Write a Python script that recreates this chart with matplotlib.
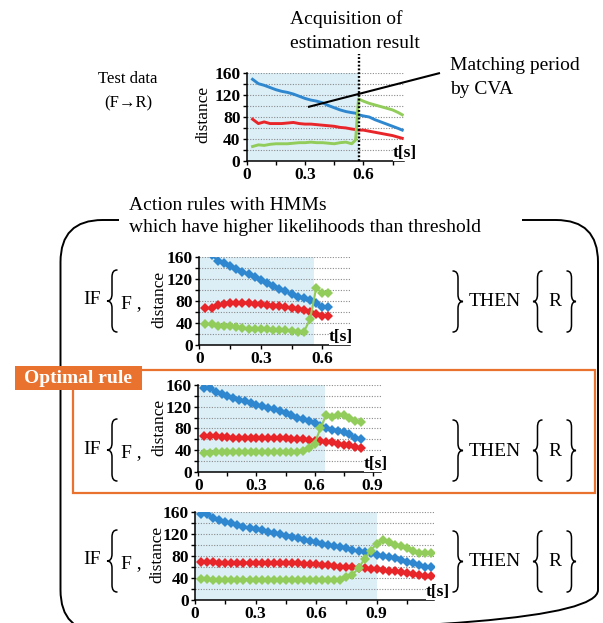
import matplotlib

matplotlib.use("Agg")

import matplotlib.pyplot as plt
from matplotlib.path import Path
from matplotlib.patches import PathPatch, Rectangle
from matplotlib.ticker import FuncFormatter

W, H = 603, 623
SERIF = ["Liberation Serif", "DejaVu Serif"]
BLUE, RED, GREEN = "#2F88CF", "#E8262A", "#92CC5A"
SHADE = "#DCEFF7"
ORANGE = "#E9722E"

# ---- data ----
# test data (F -> R), continuous curves
top_time = [0.03, 0.06, 0.09, 0.12, 0.15, 0.18, 0.21, 0.24, 0.27, 0.30, 0.33, 0.36, 0.39, 0.42,
            0.45, 0.48, 0.51, 0.54, 0.56, 0.575, 0.60, 0.63, 0.66, 0.69, 0.72, 0.75, 0.78, 0.80]
top_blue = [149, 141, 138, 134, 130, 127, 125, 122, 118, 114, 111, 109, 106, 101,
            97, 93, 90, 88, 87, 84, 82, 80, 75, 71, 67, 63, 59, 56]
top_red = [76, 68, 71, 68, 68, 68, 69, 70, 68, 67, 67, 66, 65, 64,
           63, 61, 60, 58, 57, 56, 56, 54, 52, 50, 48, 46, 43, 41]
top_green = [26, 29, 28, 30, 31, 31, 31, 32, 33, 33, 34, 33, 33, 32,
             31, 33, 34, 31, 38, 113, 109, 105, 102, 99, 96, 93, 88, 84]
top_match_end = 0.58

# HMM rule 1
r1_time = [0.03, 0.06, 0.09, 0.12, 0.15, 0.18, 0.21, 0.24, 0.27, 0.30, 0.33,
           0.36, 0.39, 0.42, 0.45, 0.48, 0.51, 0.54, 0.57, 0.60, 0.63]
r1_blue = [172, 164, 154, 149, 144, 139, 134, 129, 124, 119, 114,
           108, 103, 98, 93, 88, 86, 82, 76, 70, 70]
r1_red = [67, 67, 73, 75, 76, 76, 76, 76, 75, 74, 73,
          72, 71, 70, 68, 66, 64, 61, 56, 52, 52]
r1_green = [38, 38, 35, 34, 34, 33, 31, 30, 30, 29, 29,
            28, 27, 27, 26, 24, 24, 47, 104, 95, 95]
r1_match_end = 0.56

# HMM rule 2 (optimal)
r2_time = [0.03, 0.06, 0.09, 0.12, 0.15, 0.18, 0.21, 0.24, 0.27, 0.30, 0.33, 0.36, 0.39, 0.42,
           0.45, 0.48, 0.51, 0.54, 0.57, 0.60, 0.63, 0.66, 0.69, 0.72, 0.75, 0.78, 0.81, 0.84]
r2_blue = [155, 155, 147, 143, 139, 136, 133, 130, 127, 124, 121, 118, 115, 112,
           108, 104, 100, 97, 93, 89, 84, 80, 77, 75, 73, 69, 62, 61]
r2_red = [66, 66, 65, 64, 64, 63, 63, 63, 63, 63, 63, 63, 62, 62,
          62, 61, 61, 60, 59, 57, 56, 55, 54, 52, 50, 49, 45, 44]
r2_green = [35, 35, 36, 37, 37, 37, 37, 37, 37, 37, 37, 37, 37, 37,
            37, 37, 37, 39, 43, 52, 80, 105, 101, 104, 105, 100, 93, 91]
r2_match_end = 0.655

# HMM rule 3
r3_time = [0.03, 0.06, 0.09, 0.12, 0.15, 0.18, 0.21, 0.24, 0.27, 0.30, 0.33, 0.36, 0.39,
           0.42, 0.45, 0.48, 0.51, 0.54, 0.57, 0.60, 0.63, 0.66, 0.69, 0.72, 0.75, 0.78,
           0.81, 0.84, 0.87, 0.90, 0.93, 0.96, 0.99, 1.02, 1.05, 1.08, 1.11, 1.14, 1.17]
r3_blue = [157, 157, 150, 146, 143, 140, 137, 134, 131, 129, 127, 124, 122,
           120, 117, 115, 113, 110, 108, 106, 103, 101, 99, 96, 94, 92,
           89, 87, 85, 82, 80, 78, 76, 73, 70, 68, 64, 61, 61]
r3_red = [69, 69, 69, 68, 68, 68, 68, 68, 68, 68, 68, 68, 68,
          67, 67, 67, 67, 66, 66, 65, 64, 63, 62, 61, 61, 60,
          59, 58, 57, 56, 54, 53, 52, 51, 49, 48, 46, 44, 43]
r3_green = [38, 38, 37, 37, 37, 37, 37, 37, 37, 37, 37, 37, 37,
            37, 37, 37, 37, 37, 37, 37, 37, 37, 36, 37, 42, 46,
            58, 75, 90, 103, 109, 106, 101, 98, 95, 89, 86, 86, 86]
r3_match_end = 0.9

y_major = [0, 40, 80, 120, 160]
y_minor = [20, 60, 100, 140]
x_major = [0, 0.3, 0.6, 0.9]
x_minor = [0.15, 0.45, 0.75, 1.05]

plt.rcParams["font.family"] = SERIF


def px_axes(fig, left, right, top, bottom):
    return fig.add_axes([left / W, 1 - bottom / H, (right - left) / W, (bottom - top) / H])


def make_chart(fig, box, x_max, match_end, time, series, markers, label_px, ts_px):
    left, right, top, bottom = box
    ax = px_axes(fig, left, right, top, bottom)
    ax.set_xlim(0, x_max)
    ax.set_ylim(0, 160)
    ax.axvspan(0, match_end, color=SHADE, lw=0, zorder=0)
    for values, color in series:
        if markers:
            ax.plot(time, values, color=color, lw=1.5, marker="D", ms=4.8, mew=0, zorder=3)
        else:
            ax.plot(time, values, color=color, lw=2.1, zorder=3)

    ax.set_yticks(y_major)
    ax.set_yticks(y_minor, minor=True)
    ax.set_xticks([v for v in x_major if v <= x_max])
    ax.set_xticks([v for v in x_minor if v <= x_max], minor=True)
    ax.xaxis.set_major_formatter(FuncFormatter(lambda v, _: f"{v:g}"))
    ax.grid(axis="y", which="both", color="#8A8A8A", linestyle=(0, (1, 1.4)), linewidth=0.8)
    ax.set_axisbelow(True)
    for side in ("top", "right"):
        ax.spines[side].set_visible(False)
    for side in ("left", "bottom"):
        ax.spines[side].set_linewidth(1.1)
    ax.tick_params(which="both", direction="out", length=3, width=1, pad=1.5, labelsize=12.5)
    for lab in ax.get_xticklabels() + ax.get_yticklabels():
        lab.set_fontweight("bold")

    # y label, given by its right edge and vertical centre in pixels
    ax.set_ylabel("distance", fontsize=12.5)
    ax.yaxis.set_label_coords((label_px[0] - left) / (right - left),
                              (bottom - label_px[1]) / (bottom - top))
    ax.text((ts_px - left) / (right - left), 0.0, "t[s]", transform=ax.transAxes,
            ha="right", va="bottom", fontsize=12.5, fontweight="bold",
            bbox=dict(facecolor="white", edgecolor="none", pad=0.3), zorder=5)
    return ax


def brace(ax, x_left, x_right, y_top, y_bot, side="left", lw=1.1):
    xc = (x_left + x_right) / 2
    ym = (y_top + y_bot) / 2
    k = 7
    tip, outer = (x_left, x_right) if side == "left" else (x_right, x_left)
    verts = [(outer, y_top), (xc, y_top), (xc, y_top + k), (xc, ym - k), (xc, ym), (tip, ym),
             (xc, ym), (xc, ym + k), (xc, y_bot - k), (xc, y_bot), (outer, y_bot)]
    codes = [Path.MOVETO, Path.CURVE3, Path.CURVE3, Path.LINETO, Path.CURVE3, Path.CURVE3,
             Path.CURVE3, Path.CURVE3, Path.LINETO, Path.CURVE3, Path.CURVE3]
    ax.add_patch(PathPatch(Path(verts, codes), fill=False, lw=lw, color="black",
                           capstyle="round"))


fig = plt.figure(figsize=(W / 100, H / 100), dpi=100)

top_ax = make_chart(fig, (246.7, 404.2, 73.3, 160.7), 0.81, top_match_end, top_time,
                    [(top_blue, BLUE), (top_red, RED), (top_green, GREEN)], False,
                    (211, 114), 417)
top_ax.axvline(top_match_end, ymin=0, ymax=1.22, color="black", lw=1.7,
               linestyle=(0, (0.8, 0.8)), clip_on=False, zorder=4)

make_chart(fig, (199.3, 350, 257.3, 345), 0.735, r1_match_end, r1_time,
           [(r1_blue, BLUE), (r1_red, RED), (r1_green, GREEN)], True, (167, 299), 353)
make_chart(fig, (198.3, 380.5, 385, 471.7), 0.94, r2_match_end, r2_time,
           [(r2_blue, BLUE), (r2_red, RED), (r2_green, GREEN)], True, (167, 427), 388)
make_chart(fig, (195, 434, 512.3, 600), 1.184, r3_match_end, r3_time,
           [(r3_blue, BLUE), (r3_red, RED), (r3_green, GREEN)], True, (165, 554), 450)

# overlay in pixel coordinates for the diagram parts
ov = fig.add_axes([0, 0, 1, 1], zorder=10)
ov.set_xlim(0, W)
ov.set_ylim(H, 0)
ov.axis("off")
ov.patch.set_visible(False)

ov.text(290, 19, "Acquisition of", fontsize=14, ha="left", va="center")
ov.text(290, 43, "estimation result", fontsize=14, ha="left", va="center")
ov.text(128, 79, "Test data", fontsize=12, ha="center", va="center")
ov.text(128, 103, "(F\u2192R)", fontsize=12, ha="center", va="center")
ov.text(450, 65, "Matching period", fontsize=14, ha="left", va="center")
ov.text(450, 90, "by CVA", fontsize=14, ha="left", va="center")
ov.plot([308, 440], [107, 73], color="black", lw=1.5, solid_capstyle="butt")

# rounded frame with a gap for the heading
L, R, T, B, r = 60.5, 598, 220, 632, 42
frame = [(119, T), (L + r, T), (L, T), (L, T + r), (L, B - r), (L, B), (L + r, B),
         (R - r, B), (R, B), (R, B - r), (R, T + r), (R, T), (R - r, T), (522, T)]
fcodes = [Path.MOVETO, Path.LINETO, Path.CURVE3, Path.CURVE3, Path.LINETO, Path.CURVE3,
          Path.CURVE3, Path.LINETO, Path.CURVE3, Path.CURVE3, Path.LINETO, Path.CURVE3,
          Path.CURVE3, Path.LINETO]
ov.add_patch(PathPatch(Path(frame, fcodes), fill=False, lw=1.4, color="black"))
ov.text(129, 205, "Action rules with HMMs", fontsize=14, ha="left", va="center")
ov.text(129, 227, "which have higher likelihoods than threshold", fontsize=14,
        ha="left", va="center")

# optimal rule highlight
ov.add_patch(Rectangle((73, 370), 522, 123, fill=False, lw=1.6, edgecolor=ORANGE))
ov.add_patch(Rectangle((15, 366), 127, 24, facecolor=ORANGE, edgecolor="none"))
ov.text(78.5, 378.5, "Optimal rule", color="white", fontsize=14, fontweight="bold",
        ha="center", va="center")

# IF { F , ... } THEN { R } rows
for cy in (301, 450, 561):
    ov.text(92, cy - 1, "IF", fontsize=14, ha="center", va="center")
    brace(ov, 107, 117, cy - 31, cy + 31, "left")
    ov.text(121, cy + 3, "F ,", fontsize=14, ha="left", va="center")
    brace(ov, 453, 463, cy - 30, cy + 31, "right")
    ov.text(469, cy + 1, "THEN", fontsize=14, ha="left", va="center")
    brace(ov, 533, 542, cy - 30, cy + 31, "left")
    ov.text(555, cy + 1, "R", fontsize=14, ha="center", va="center")
    brace(ov, 567, 576, cy - 30, cy + 31, "right")

fig.savefig("out.png", dpi=100)
